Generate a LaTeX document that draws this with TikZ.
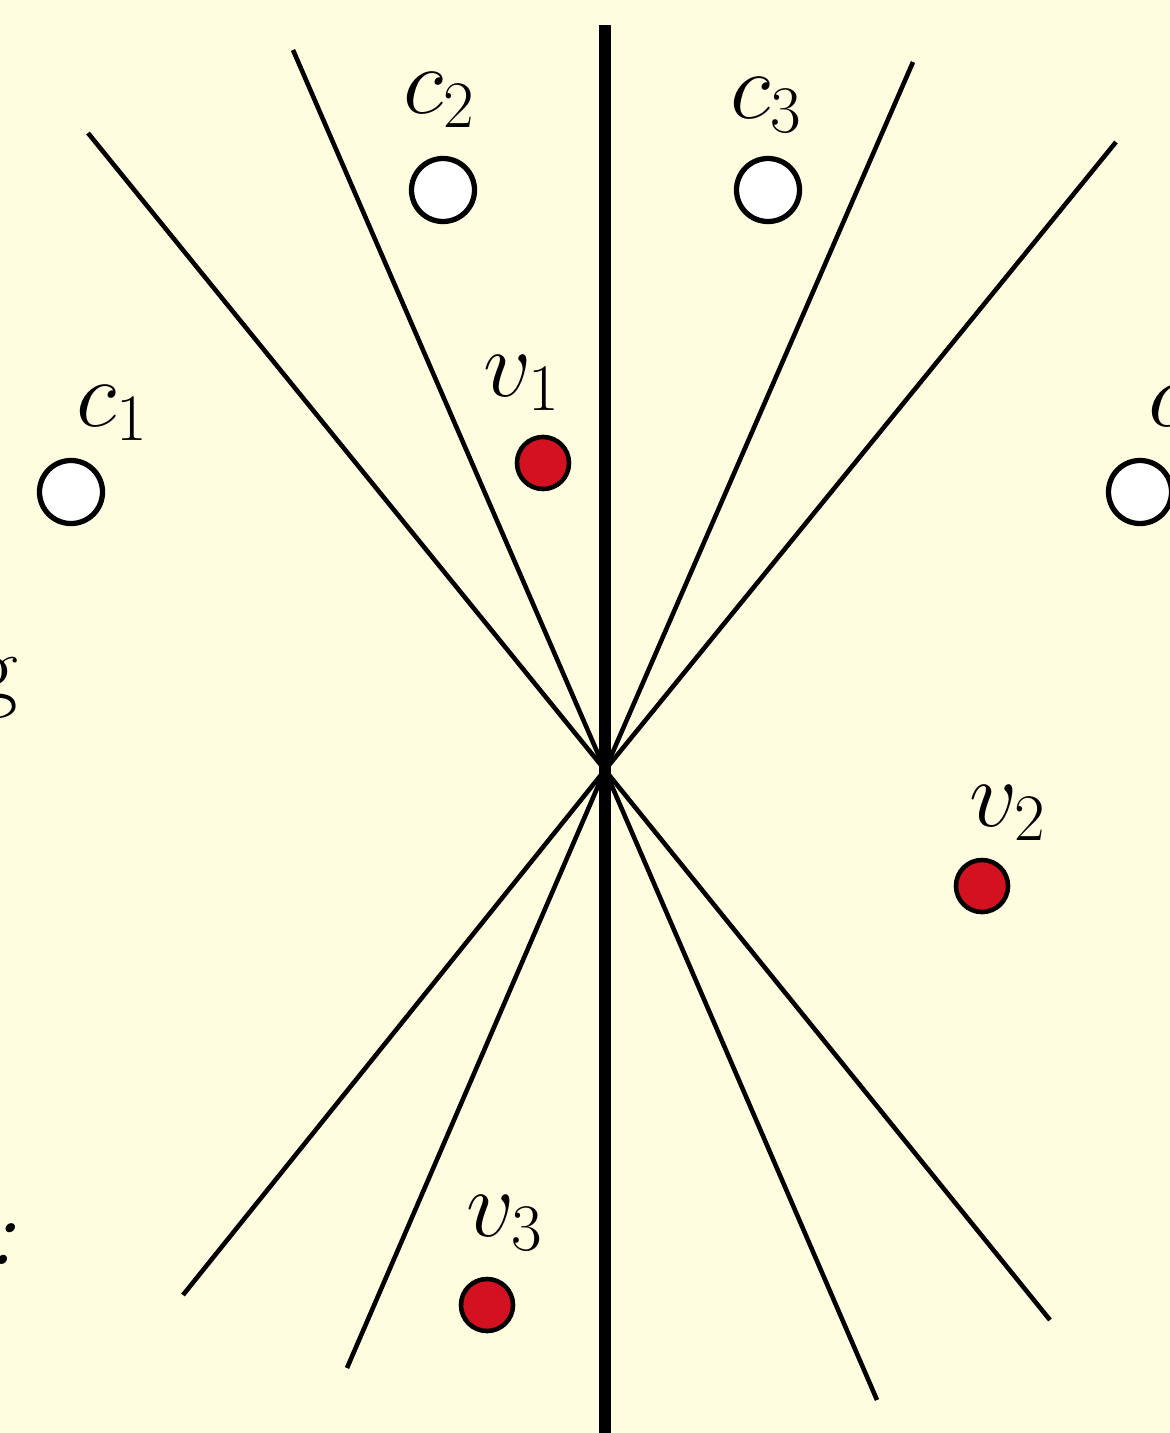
\RequirePackage{fix-cm}
\documentclass[tikz,border=0pt]{standalone}
\usepackage{tikz}
\usetikzlibrary{positioning,calc}
\definecolor{cutBg}{RGB}{255, 253, 223}
\definecolor{cutRed}{RGB}{212, 17, 32}

\begin{document}
\begin{tikzpicture}[
  x=0.01cm, y=-0.01cm,
  client/.style={
    draw,
    circle,
    line width=1.5pt,
    fill=white,
    minimum size=0.63cm,
    inner sep=0pt
  },
  voter/.style={
    draw,
    circle,
    line width=1.3pt,
    fill=cutRed,
    minimum size=0.52cm,
    inner sep=0pt
  },
  tag/.style={font=\fontsize{27}{32}\selectfont},
  cutline/.style={line width=1.3pt},
  axisline/.style={line width=3.6pt}
]
  \fill[cutBg] (0,0) rectangle (1170,1433);
  \useasboundingbox (0,0) rectangle (1170,1433);

  \coordinate (mid) at (605,770);
  \coordinate (top) at (605,25);
  \coordinate (bot) at (605,1460);

  % cutting lines through the middle point
  \coordinate (a1) at (88,133);   \coordinate (a2) at (1050,1320);
  \coordinate (b1) at (293,50);   \coordinate (b2) at (877,1400);
  \coordinate (d1) at (913,62);   \coordinate (d2) at (347,1368);
  \coordinate (e1) at (1116,142); \coordinate (e2) at (183,1295);
  \draw[cutline] (a1) -- (mid) -- (a2);
  \draw[cutline] (b1) -- (mid) -- (b2);
  \draw[cutline] (d1) -- (mid) -- (d2);
  \draw[cutline] (e1) -- (mid) -- (e2);
  \draw[axisline] (top) -- (bot);

  % candidates
  \node[client] (c1) at (71,492) {};
  \node[client] (c2) at (443,190) {};
  \node[client] (c3) at (768,190) {};
  \node[client] (c4) at (1140,492) {};
  \node[tag] (c1lab) at (113,413) {$c_1$};
  \node[tag] (c2lab) at (440,100) {$c_2$};
  \node[tag] (c3lab) at (767,105) {$c_3$};
  \node[tag] (c4lab) at (1185,413) {$c_4$};

  % voters
  \node[voter] (v1) at (543,463) {};
  \node[voter] (v2) at (982,886) {};
  \node[voter] (v3) at (487,1305) {};
  \node[tag] (v1lab) at (522,383) {$v_1$};
  \node[tag] (v2lab) at (1008,813) {$v_2$};
  \node[tag] (v3lab) at (505,1223) {$v_3$};

  % text cut off at the left edge
  \node[tag,anchor=base east,inner sep=0pt] (wordg) at (19,699) {g};
  \node[tag,anchor=base east,inner sep=0pt] (colon) at (17,1264) {\itshape :};
\end{tikzpicture}
\end{document}
